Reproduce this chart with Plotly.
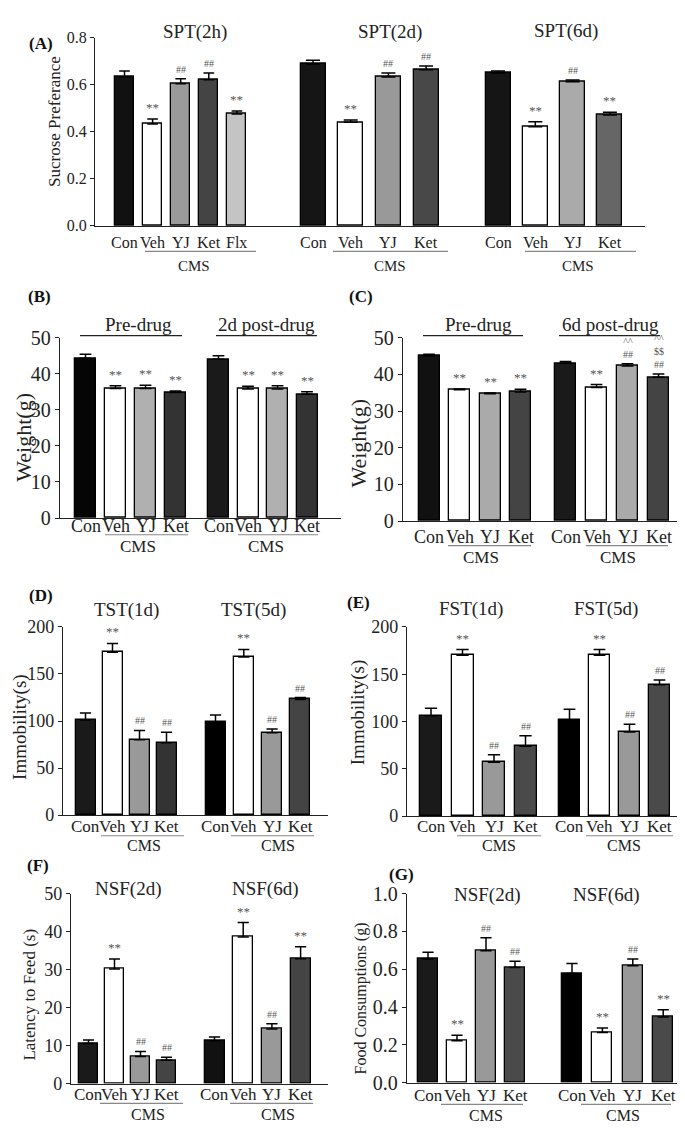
import plotly.graph_objects as go

W, H = 685, 1128
FONT = "Liberation Serif, Times New Roman, serif"

# ---------------- data ----------------
cats4 = ["Con", "Veh", "YJ", "Ket"]
cats5 = ["Con", "Veh", "YJ", "Ket", "Flx"]

# (A) Sucrose preference
spt2h_mean = [0.633, 0.433, 0.604, 0.621, 0.475]
spt2h_sem = [0.025, 0.021, 0.021, 0.029, 0.013]
spt2h_sig = ["", "**", "##", "##", "**"]
spt2d_mean = [0.688, 0.440, 0.633, 0.663]
spt2d_sem = [0.016, 0.010, 0.017, 0.016]
spt2d_sig = ["", "**", "##", "##"]
spt6d_mean = [0.650, 0.421, 0.612, 0.471]
spt6d_sem = [0.008, 0.021, 0.008, 0.012]
spt6d_sig = ["", "**", "##", "**"]

# (B) Weight, pre-drug / 2d post-drug
wB_pre_mean = [44.3, 35.9, 35.9, 34.8]
wB_pre_sem = [1.1, 0.8, 0.9, 0.4]
wB_pre_sig = ["", "**", "**", "**"]
wB_post_mean = [44.0, 35.8, 35.8, 34.3]
wB_post_sem = [1.0, 0.7, 0.9, 0.7]
wB_post_sig = ["", "**", "**", "**"]

# (C) Weight, pre-drug / 6d post-drug
wC_pre_mean = [45.0, 35.8, 34.7, 35.2]
wC_pre_sem = [0.5, 0.2, 0.2, 0.7]
wC_pre_sig = ["", "**", "**", "**"]
wC_post_mean = [43.0, 36.4, 42.3, 39.2]
wC_post_sem = [0.5, 0.8, 0.6, 0.9]
wC_post_sig = ["", "**", "^^<br>##", "^^<br>$$<br>##"]

# (D) TST immobility
tst1_mean = [101, 173, 80, 77]
tst1_sem = [7.5, 9.5, 10, 11]
tst1_sig = ["", "**", "##", "##"]
tst5_mean = [99, 168, 87.5, 123]
tst5_sem = [7.5, 8, 4, 2]
tst5_sig = ["", "**", "##", "##"]

# (E) FST immobility
fst1_mean = [106, 170, 57, 74]
fst1_sem = [8, 6, 8, 11]
fst1_sig = ["", "**", "##", "##"]
fst5_mean = [102, 170, 89, 139]
fst5_sem = [11, 6, 8, 5]
fst5_sig = ["", "**", "##", "##"]

# (F) NSF latency
nsfL2_mean = [10.6, 30.2, 7.2, 6.2]
nsfL2_sem = [0.9, 2.6, 1.3, 0.8]
nsfL2_sig = ["", "**", "##", "##"]
nsfL6_mean = [11.3, 38.6, 14.4, 32.9]
nsfL6_sem = [1.0, 3.8, 1.4, 3.1]
nsfL6_sig = ["", "**", "##", "**"]

# (G) NSF food consumption
nsfF2_mean = [0.655, 0.223, 0.698, 0.609]
nsfF2_sem = [0.035, 0.029, 0.069, 0.034]
nsfF2_sig = ["", "**", "##", "##"]
nsfF6_mean = [0.578, 0.266, 0.619, 0.348]
nsfF6_sem = [0.053, 0.024, 0.036, 0.038]
nsfF6_sig = ["", "**", "##", "**"]

# ---------------- layout specs (pixels) ----------------
def G(cats, mean, sem, sig, colors, c0, step, w, title=None, title_xy=None,
      head_line=None, line=None, cms_x=None):
    return dict(cats=cats, mean=mean, sem=sem, sig=sig, colors=colors, c0=c0,
                step=step, w=w, title=title, title_xy=title_xy,
                head_line=head_line, line=line, cms_x=cms_x)

panels = [
    dict(x0=87, x1=637, yb=211, yt=19, yr=[0, 0.8], dtick=0.2, fmt=".1f", tsize=16,
         ytitle="Sucrose Preferance", yt_xy=(47, 105), yt_size=17,
         label="(A)", label_xy=(33, 25), lab_y=228, lab_size=16, line_y=237, cms_y=252,
         groups=[
             G(cats5, spt2h_mean, spt2h_sem, spt2h_sig,
               ["#111111", "#ffffff", "#9a9a9a", "#444444", "#c4c4c4"],
               116.5, 28.1, 19, "SPT(2h)", (187, 13), None, (137, 248), 186),
             G(cats4, spt2d_mean, spt2d_sem, spt2d_sig,
               ["#151515", "#ffffff", "#999999", "#484848"],
               305, 37.7, 25, "SPT(2d)", (382, 13), None, (325, 440), 382),
             G(cats4, spt6d_mean, spt6d_sem, spt6d_sig,
               ["#151515", "#ffffff", "#aaaaaa", "#666666"],
               490, 37.3, 25, "SPT(6d)", (558, 12), None, (517, 628), 570),
         ]),
    dict(x0=52, x1=333, yb=509, yt=325, yr=[0, 50], dtick=10, fmt="d", tsize=20,
         ytitle="Weight(g)", yt_xy=(16, 427), yt_size=22,
         label="(B)", label_xy=(32, 283), lab_y=517, lab_size=18, line_y=526, cms_y=538,
         groups=[
             G(cats4, wB_pre_mean, wB_pre_sem, wB_pre_sig,
               ["#050505", "#ffffff", "#b0b0b0", "#333333"],
               77.5, 30, 21, "Pre-drug", (130, 312), (72, 174, 323), (97, 180), 130),
             G(cats4, wB_post_mean, wB_post_sem, wB_post_sig,
               ["#1a1a1a", "#ffffff", "#b0b0b0", "#333333"],
               210.5, 29.5, 21, "2d post-drug", (258, 312), (208, 309, 323), (230, 310), 258),
         ]),
    dict(x0=395, x1=680, yb=512, yt=325, yr=[0, 50], dtick=10, fmt="d", tsize=20,
         ytitle="Weight(g)", yt_xy=(351, 433), yt_size=22,
         label="(C)", label_xy=(353, 283), lab_y=528, lab_size=18, line_y=537, cms_y=549,
         groups=[
             G(cats4, wC_pre_mean, wC_pre_sem, wC_pre_sig,
               ["#111111", "#ffffff", "#aaaaaa", "#444444"],
               421, 30.5, 21, "Pre-drug", (470, 312), (415, 515, 323), (440, 523), 473),
             G(cats4, wC_post_mean, wC_post_sem, wC_post_sig,
               ["#1a1a1a", "#ffffff", "#aaaaaa", "#444444"],
               557.5, 31, 21, "6d post-drug", (602, 312), (551, 652, 323), (578, 660), 610),
         ]),
    dict(x0=55, x1=320, yb=812, yt=620, yr=[0, 200], dtick=50, fmt="d", tsize=18,
         ytitle="Immobility(s)", yt_xy=(12, 722), yt_size=19,
         label="(D)", label_xy=(33, 588), lab_y=824, lab_size=17, line_y=833, cms_y=843,
         groups=[
             G(cats4, tst1_mean, tst1_sem, tst1_sig,
               ["#1a1a1a", "#ffffff", "#999999", "#333333"],
               77.5, 27, 20, "TST(1d)", (118, 603), None, (93, 176), 136),
             G(cats4, tst5_mean, tst5_sem, tst5_sig,
               ["#000000", "#ffffff", "#999999", "#444444"],
               207.5, 28.3, 20, "TST(5d)", (245, 603), None, (223, 306), 270),
         ]),
    dict(x0=399, x1=680, yb=813, yt=620, yr=[0, 200], dtick=50, fmt="d", tsize=18,
         ytitle="Immobility(s)", yt_xy=(350, 707), yt_size=19,
         label="(E)", label_xy=(350, 595), lab_y=824, lab_size=17, line_y=833, cms_y=843,
         groups=[
             G(cats4, fst1_mean, fst1_sem, fst1_sig,
               ["#1a1a1a", "#ffffff", "#999999", "#4a4a4a"],
               423, 31.5, 22, "FST(1d)", (463, 602), None, (449, 533), 491),
             G(cats4, fst5_mean, fst5_sem, fst5_sig,
               ["#000000", "#ffffff", "#999999", "#4a4a4a"],
               561.5, 30, 21, "FST(5d)", (598, 602), None, (578, 665), 616),
         ]),
    dict(x0=63, x1=320, yb=1086, yt=892, yr=[0, 50], dtick=10, fmt="d", tsize=18,
         ytitle="Latency to Feed (s)", yt_xy=(22, 995), yt_size=17,
         label="(F)", label_xy=(30, 863), lab_y=1097, lab_size=17, line_y=1106, cms_y=1117,
         groups=[
             G(cats4, nsfL2_mean, nsfL2_sem, nsfL2_sig,
               ["#1a1a1a", "#ffffff", "#999999", "#444444"],
               80.5, 26, 19.5, "NSF(2d)", (120, 887), None, (92, 175), 140),
             G(cats4, nsfL6_mean, nsfL6_sem, nsfL6_sig,
               ["#111111", "#ffffff", "#999999", "#444444"],
               206.5, 28.7, 20, "NSF(6d)", (257, 887), None, (222, 305), 270),
         ]),
    dict(x0=399, x1=675, yb=1085, yt=892, yr=[0, 1.0], dtick=0.2, fmt=".1f", tsize=20,
         ytitle="Food Consumptions (g)", yt_xy=(353, 999), yt_size=16,
         label="(G)", label_xy=(393, 873), lab_y=1098, lab_size=17, line_y=1107, cms_y=1118,
         groups=[
             G(cats4, nsfF2_mean, nsfF2_sem, nsfF2_sig,
               ["#1a1a1a", "#ffffff", "#999999", "#4a4a4a"],
               420, 29, 20, "NSF(2d)", (479, 893), None, (433, 515), 478),
             G(cats4, nsfF6_mean, nsfF6_sem, nsfF6_sig,
               ["#000000", "#ffffff", "#999999", "#4a4a4a"],
               564, 30.4, 20, "NSF(6d)", (598, 893), None, (573, 663), 615),
         ]),
]


def px(x):
    return x / W


def py(y):
    return 1 - y / H


def ptext(x, y, text, size, color="#222222", **kw):
    d = dict(x=px(x), y=py(y), xref="paper", yref="paper", text=text,
             showarrow=False, xanchor="center", yanchor="middle",
             font=dict(family=FONT, size=size, color=color))
    d.update(kw)
    return d


fig = go.Figure()
annotations = []
shapes = []

for k, p in enumerate(panels, start=1):
    xa = "x" if k == 1 else f"x{k}"
    ya = "y" if k == 1 else f"y{k}"
    xkey = "xaxis" if k == 1 else f"xaxis{k}"
    ykey = "yaxis" if k == 1 else f"yaxis{k}"
    span = p["x1"] - p["x0"]

    for g in p["groups"]:
        n = len(g["cats"])
        xs = [g["c0"] - p["x0"] + i * g["step"] for i in range(n)]
        fig.add_trace(go.Bar(
            x=xs, y=g["mean"], width=[g["w"]] * n,
            marker=dict(color=g["colors"], line=dict(color="#000000", width=1.3)),
            error_y=dict(type="data", array=g["sem"], arrayminus=[0] * n,
                         symmetric=False, color="#000000", thickness=1.5,
                         width=g["w"] * 0.28),
            xaxis=xa, yaxis=ya, showlegend=False, hoverinfo="skip",
        ))
        # significance marks
        for xv, m, s, t in zip(xs, g["mean"], g["sem"], g["sig"]):
            if t:
                size = 13 if "*" in t else 10
                annotations.append(dict(
                    x=xv, y=m + s, xref=xa, yref=ya, text=t, showarrow=False,
                    xanchor="center", yanchor="bottom", yshift=2,
                    font=dict(family=FONT, size=size, color="#555555")))
        # category labels
        for xv, c in zip(xs, g["cats"]):
            annotations.append(dict(
                x=xv, y=py(p["lab_y"]), xref=xa, yref="paper", text=c,
                showarrow=False, xanchor="center", yanchor="middle",
                font=dict(family=FONT, size=p["lab_size"], color="#222222")))
        # CMS bracket
        la, lb = g["line"]
        shapes.append(dict(type="line", xref="paper", yref="paper",
                           x0=px(la), x1=px(lb), y0=py(p["line_y"]), y1=py(p["line_y"]),
                           line=dict(color="#888888", width=1.2)))
        annotations.append(ptext(g["cms_x"], p["cms_y"], "CMS", p["lab_size"] - 1))
        # group title
        tx, ty = g["title_xy"]
        annotations.append(ptext(tx, ty, g["title"], 19))
        if g["head_line"]:
            ha, hb, hy = g["head_line"]
            shapes.append(dict(type="line", xref="paper", yref="paper",
                               x0=px(ha), x1=px(hb), y0=py(hy), y1=py(hy),
                               line=dict(color="#222222", width=1.3)))

    # panel letter
    lx, ly = p["label_xy"]
    annotations.append(ptext(lx, ly, f"<b>{p['label']}</b>", 17, "#111111"))
    # y title
    tx, ty = p["yt_xy"]
    annotations.append(ptext(tx, ty, p["ytitle"], p["yt_size"], textangle=-90))

    fig.update_layout({
        xkey: dict(domain=[px(p["x0"]), px(p["x1"])], range=[0, span],
                   anchor=ya, showgrid=False, zeroline=False, showline=True,
                   linecolor="#222222", linewidth=1.3, ticks="", showticklabels=False,
                   fixedrange=True),
        ykey: dict(domain=[py(p["yb"]), py(p["yt"])], range=p["yr"], anchor=xa,
                   dtick=p["dtick"], tick0=0, tickformat=p["fmt"],
                   showgrid=False, zeroline=False, showline=True,
                   linecolor="#222222", linewidth=1.3, ticks="outside", ticklen=4,
                   tickcolor="#222222",
                   tickfont=dict(family=FONT, size=p["tsize"], color="#222222"),
                   fixedrange=True),
    })

fig.update_layout(
    width=W, height=H, margin=dict(l=0, r=0, t=0, b=0),
    paper_bgcolor="white", plot_bgcolor="white",
    annotations=annotations, shapes=shapes, bargap=0,
)

fig.write_html("out.html")
